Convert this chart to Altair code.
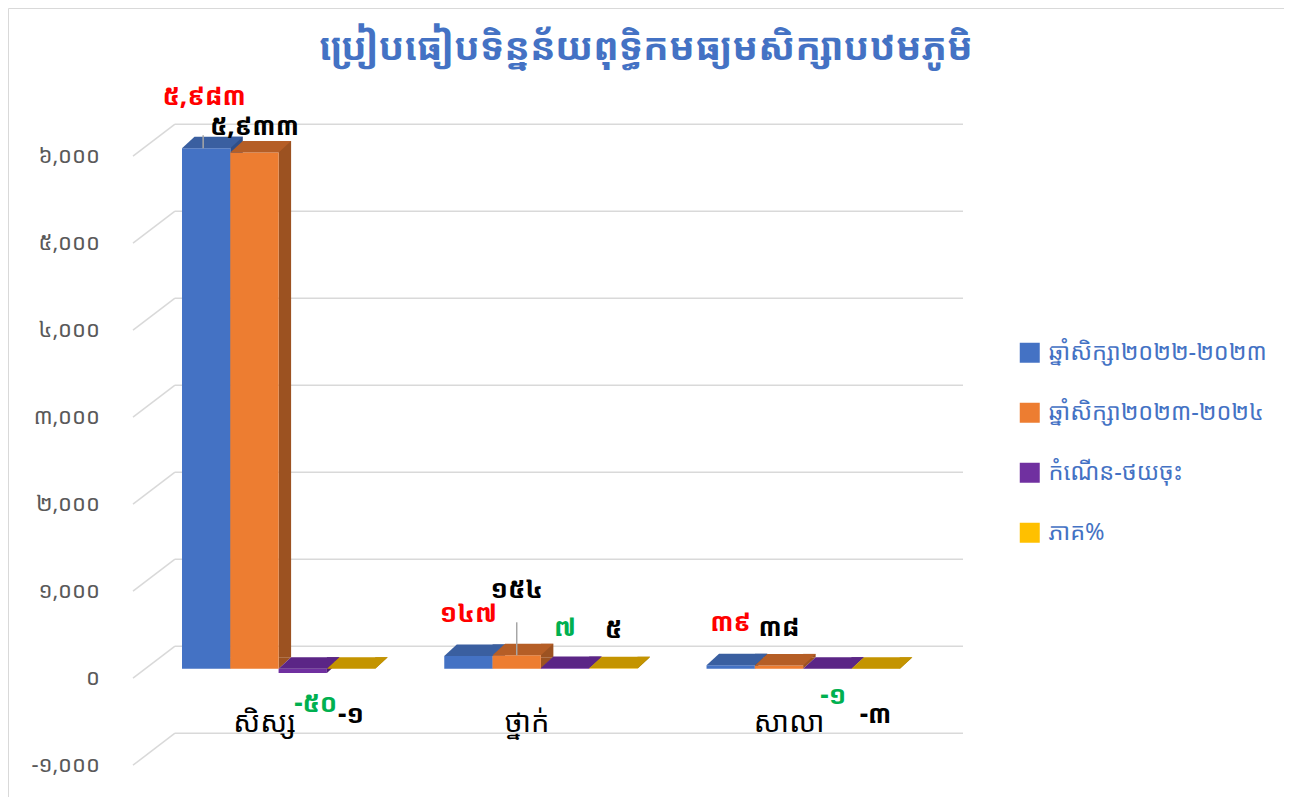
import altair as alt
import pandas as pd

# ---------------- data ----------------
title_text = "ប្រៀបធៀបទិន្នន័យពុទ្ធិកមធ្យមសិក្សាបឋមភូមិ"
categories = ["សិស្ស", "ថ្នាក់", "សាលា"]
series_names = ["ឆ្នាំសិក្សា២០២២-២០២៣", "ឆ្នាំសិក្សា២០២៣-២០២៤", "កំណើន-ថយចុះ", "ភាគ%"]
year_2022_2023 = [5983, 147, 39]
year_2023_2024 = [5933, 154, 38]
growth = [-50, 7, -1]
percent = [-1, 5, -3]
y_ticks = [-1000, 0, 1000, 2000, 3000, 4000, 5000, 6000]
y_tick_labels = ["-១,០០០", "០", "១,០០០", "២,០០០", "៣,០០០", "៤,០០០", "៥,០០០", "៦,០០០"]

# ---------------- styles / layout ----------------
FONT = "'Khmer OS Battambang', 'Khmer OS', 'Noto Sans Khmer', 'Noto Serif Khmer', Hanuman, sans-serif"
front_colors = ["#4472C4", "#ED7D31", "#7030A0", "#FFC000"]
top_colors = ["#3A5FA0", "#B55E26", "#5B2586", "#C49400"]
side_colors = ["#2F4F88", "#9C5221", "#4C1F70", "#A67E00"]
label_colors = ["#FF0000", "#000000", "#00B050", "#000000"]
label_dy_pos = [-42, -37, -40, -38]
label_dy_neg = [33, 33, 31, 46]
# manual label moves (as in the reference): (group, series) -> (dx, dy)
label_nudge = {(0, 0): (-2, -9), (0, 1): (0, 11), (1, 1): (0, -28), (0, 2): (13, 0), (2, 2): (6, -4)}
# leader lines: (group, series) -> (dx, start offset above bar top)
leaders = {(0, 0): (-3, -13), (1, 1): (0, -33)}

W, H = 1276, 789
GROUP_STEP = 5.43      # distance between groups, in bar widths
BAR_PX = 48.3          # bar width in px
DX, DY = 12.5, 11.5    # bar depth
X0 = 174               # left edge of first bar (view px)
Y0 = 660.7             # value 0 on bar front (view px)
PX_PER_UNIT = 0.087
WALL = -22.5           # back wall offset relative to bar front
FRONT = 9.5            # axis front offset relative to bar front

KH = str.maketrans("0123456789", "០១២៣៤៥៦៧៨៩")


def kh(n):
    return f"{n:,}".translate(KH)


series_values = [year_2022_2023, year_2023_2024, growth, percent]
rows = []
for si, (name, vals) in enumerate(zip(series_names, series_values)):
    for gi, (cat, v) in enumerate(zip(categories, vals)):
        rows.append(dict(category=cat, series=name, value=v, gi=gi, si=si, label=kh(v)))
df = pd.DataFrame(rows)
df["top"] = df["value"].clip(lower=0)
df["bottom"] = df["value"].clip(upper=0)
df["pos"] = df["gi"] * GROUP_STEP + df["si"]
df["pos_end"] = df["pos"] + 1
df["pos_mid"] = df["pos"] + 0.5

df_cat = pd.DataFrame({"category": categories,
                       "center": [i * GROUP_STEP + 2 for i in range(len(categories))]})
df_ticks = pd.DataFrame({"tick": y_ticks, "label": y_tick_labels})

x_span = 2 * GROUP_STEP + 4
xs = alt.Scale(domain=[0, x_span], range=[X0, X0 + x_span * BAR_PX], nice=False, zero=False)
ys = alt.Scale(domain=[-1000, 6000],
               range=[Y0 + 1000 * PX_PER_UNIT, Y0 - 6000 * PX_PER_UNIT], nice=False, zero=False)

X = lambda f: alt.X(f, type="quantitative", scale=xs, axis=None)
Y = lambda f: alt.Y(f, type="quantitative", scale=ys, axis=None)

base = alt.Chart(df)
tbase = alt.Chart(df_ticks)

grid = tbase.mark_rule(color="#D9D9D9", strokeWidth=1.5, yOffset=WALL).encode(
    y=Y("tick"), x=alt.value(167), x2=alt.value(955))
diag = tbase.mark_rule(color="#D9D9D9", strokeWidth=1.5, yOffset=FRONT, y2Offset=WALL).encode(
    y=Y("tick"), y2="tick", x=alt.value(125), x2=alt.value(167))
tick_labels = tbase.mark_text(align="right", baseline="middle", fontSize=22, font=FONT,
                              color="#595959", yOffset=FRONT).encode(
    y=Y("tick"), x=alt.value(92), text="label")

side = base.mark_rect(x2Offset=DX, yOffset=-DY, y2Offset=-DY).encode(
    x=X("pos_end"), x2="pos_end", y=Y("top"), y2="bottom",
    color=alt.Color("series:N", scale=alt.Scale(domain=series_names, range=side_colors), legend=None))
side_tri = base.mark_point(shape=f"M0,{-DY} L0,0 L{DX},{-DY} Z", size=4, filled=True,
                           opacity=1, strokeWidth=0).encode(
    x=X("pos_end"), y=Y("bottom"),
    color=alt.Color("series:N", scale=alt.Scale(domain=series_names, range=side_colors), legend=None))
front = base.mark_rect().encode(
    x=X("pos"), x2="pos_end", y=Y("top"), y2="bottom",
    color=alt.Color("series:N", scale=alt.Scale(domain=series_names, range=front_colors),
                    legend=alt.Legend(orient="none", legendX=1010, legendY=333, title=None,
                                      symbolType="square", symbolSize=400, symbolStrokeWidth=0,
                                      symbolOpacity=1, labelFontSize=23.5, labelFont=FONT,
                                      labelColor="#4472C4", rowPadding=35, labelOffset=7,
                                      labelLimit=400, padding=0)))
top = base.mark_point(shape=f"M0,0 L{BAR_PX},0 L{BAR_PX + DX},{-DY} L{DX},{-DY} Z", size=4,
                      filled=True, opacity=1, strokeWidth=0).encode(
    x=X("pos"), y=Y("top"),
    color=alt.Color("series:N", scale=alt.Scale(domain=series_names, range=top_colors), legend=None))

leader_layers = []
for (gi, si), (ldx, start) in leaders.items():
    leader_layers.append(base.transform_filter(f"datum.gi == {gi} && datum.si == {si}").mark_rule(
        color="#A6A6A6", strokeWidth=1.5, xOffset=ldx, yOffset=start, y2Offset=0).encode(
        x=X("pos_mid"), y=Y("top"), y2="top"))

value_layers = []
for si in range(len(series_names)):
    for gi in range(len(categories)):
        v = series_values[si][gi]
        ndx, ndy = label_nudge.get((gi, si), (0, 0))
        dy = (label_dy_pos[si] if v >= 0 else label_dy_neg[si]) + ndy
        value_layers.append(base.transform_filter(f"datum.gi == {gi} && datum.si == {si}").mark_text(
            fontSize=26, fontWeight="bold", font=FONT, color=label_colors[si], baseline="middle",
            dx=ndx, dy=dy).encode(x=X("pos_mid"), y=Y("top" if v >= 0 else "bottom"), text="label"))

cat_labels = alt.Chart(df_cat).mark_text(fontSize=29, font=FONT, color="#000000",
                                         baseline="middle", dx=-14).encode(
    x=X("center"), y=alt.value(715), text="category")

chart = alt.layer(grid, diag, tick_labels, side, side_tri, front, top, *leader_layers,
                  *value_layers, cat_labels).resolve_scale(
    color="independent"
).properties(
    width=W, height=H, padding=0, background="white",
    autosize=alt.AutoSizeParams(type="none"),
    title=alt.TitleParams(title_text, anchor="middle", fontSize=38, fontWeight="bold",
                          color="#4472C4", font=FONT, dy=64),
).configure_view(stroke="#D9D9D9", strokeWidth=1)

chart.save("out.html", embed_options={"renderer": "svg", "actions": False})
